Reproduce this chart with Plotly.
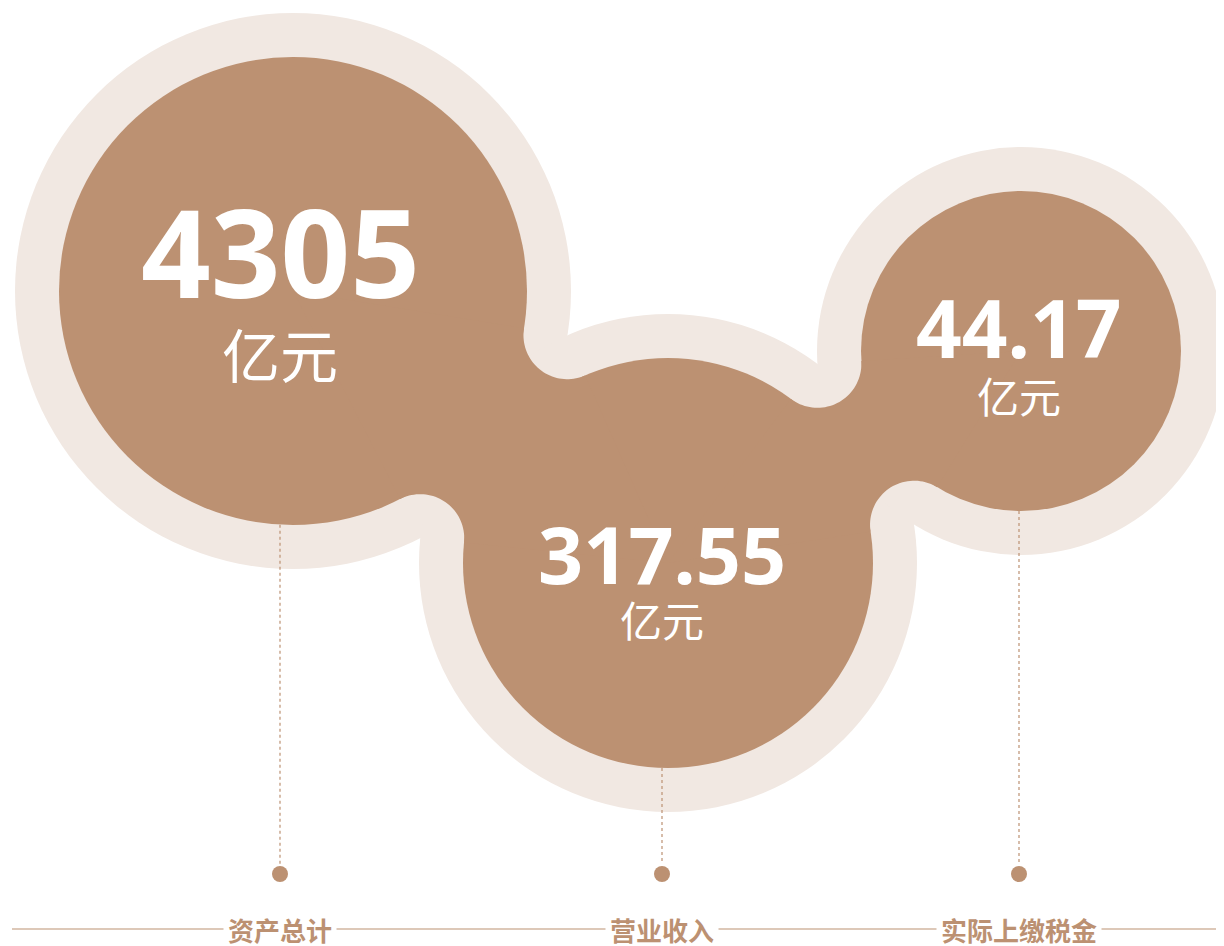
import numpy as np
import plotly.graph_objects as go

# data
labels = ["资产总计", "营业收入", "实际上缴税金"]
values = [4305, 317.55, 44.17]
unit = "亿元"

BROWN = "rgb(188,145,114)"
HALO = "rgb(241,232,226)"
W, H = 1224, 946
PAGE = 8  # default body margin of the html page
OFF = 44  # halo width

# bubble layout: centre x, centre y, brown radius
bubbles = [(293, 291, 234), (668, 563, 205), (1021, 351, 160)]
anchor_x = [280, 662, 1019]


def circle(cx, cy, r, color):
    return dict(type="circle", xref="x", yref="y", x0=cx - r, x1=cx + r, y0=cy - r, y1=cy + r,
                fillcolor=color, line=dict(width=0), layer="below")


def arc(p, a0, a1, r, n=40):
    da = (a1 - a0 + np.pi) % (2 * np.pi) - np.pi
    t = np.linspace(a0, a0 + da, n)
    return [(p[0] + r * np.cos(a), p[1] + r * np.sin(a)) for a in t]


def neck(b1, b2):
    # brown bridge = halo union eroded by OFF, fillet round each halo intersection
    c1, c2 = np.array(b1[:2], float), np.array(b2[:2], float)
    R1, R2 = b1[2] + OFF, b2[2] + OFF
    d = np.linalg.norm(c2 - c1)
    u = (c2 - c1) / d
    a = (R1 ** 2 - R2 ** 2 + d ** 2) / (2 * d)
    h = np.sqrt(R1 ** 2 - a ** 2)
    base = c1 + a * u
    perp = np.array([-u[1], u[0]])
    pa, pb = base + h * perp, base - h * perp
    ang = lambda p, c: np.arctan2(c[1] - p[1], c[0] - p[0])
    pts = [tuple(c1)]
    pts += arc(pa, ang(pa, c1), ang(pa, c2), OFF)
    pts += [tuple(c2)]
    pts += arc(pb, ang(pb, c2), ang(pb, c1), OFF)
    path = "M " + " L ".join(f"{x:.2f},{y:.2f}" for x, y in pts) + " Z"
    return dict(type="path", xref="x", yref="y", path=path, fillcolor=BROWN,
                line=dict(width=0), layer="below")


shapes = [circle(cx, cy, r + OFF, HALO) for cx, cy, r in bubbles]
shapes += [circle(cx, cy, r, BROWN) for cx, cy, r in bubbles]
shapes += [neck(bubbles[0], bubbles[1]), neck(bubbles[1], bubbles[2])]

# bottom rule
shapes.append(dict(type="line", xref="x", yref="y", x0=12, x1=W + 20, y0=929, y1=929,
                   line=dict(color=BROWN, width=1.2), layer="below"))

fig = go.Figure()

# dotted leaders + dots
for (cx, cy, r), x in zip(bubbles, anchor_x):
    ytop = cy + np.sqrt(r ** 2 - (x - cx) ** 2)
    fig.add_trace(go.Scatter(x=[x, x], y=[ytop, 864], mode="lines",
                             line=dict(color=BROWN, width=1.2, dash="dot"),
                             hoverinfo="skip", showlegend=False))
fig.add_trace(go.Scatter(x=anchor_x, y=[874] * 3, mode="markers",
                         marker=dict(color=BROWN, size=16),
                         hoverinfo="skip", showlegend=False))

num_font = "Noto Sans, Roboto, sans-serif"
cjk_font = "Noto Sans CJK SC, sans-serif"
num_size = [122, 79, 80]
num_y = [251, 553, 326]
unit_size = [58, 42, 42]
unit_y = [353, 618, 394]

annotations = []
for i, v in enumerate(values):
    annotations.append(dict(x=anchor_x[i], y=num_y[i], text=f"{v:g}", showarrow=False,
                            xref="x", yref="y", xanchor="center", yanchor="middle",
                            font=dict(family=num_font, size=num_size[i], color="white", weight="bold")))
    annotations.append(dict(x=anchor_x[i], y=unit_y[i], text=unit, showarrow=False,
                            xref="x", yref="y", xanchor="center", yanchor="middle",
                            font=dict(family=cjk_font, size=unit_size[i], color="white")))
    annotations.append(dict(x=anchor_x[i], y=929, text=labels[i], showarrow=False,
                            xref="x", yref="y", xanchor="center", yanchor="middle",
                            bgcolor="white", borderpad=4,
                            font=dict(family=cjk_font, size=26, color=BROWN, weight="bold")))

# axis ranges shifted so that data units equal window pixels
fig.update_layout(
    width=W, height=H,
    margin=dict(l=0, r=0, t=0, b=0),
    paper_bgcolor="white", plot_bgcolor="white",
    shapes=shapes, annotations=annotations,
    xaxis=dict(range=[PAGE, W + PAGE], visible=False, fixedrange=True),
    yaxis=dict(range=[H + PAGE, PAGE], visible=False, fixedrange=True),
)

fig.write_html("out.html")
